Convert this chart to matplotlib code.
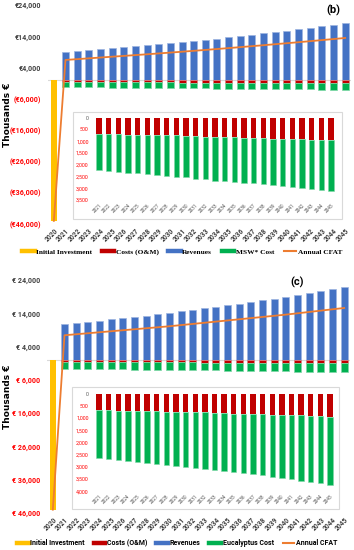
import matplotlib
matplotlib.use('Agg')
import matplotlib.pyplot as plt
from matplotlib.patches import Rectangle
from matplotlib.lines import Line2D
import numpy as np

W, H = 354, 550

years = [str(y) for y in range(2020, 2046)]
years_op = years[1:]

initial_investment_b = -45000
revenues_b = [9000, 9320, 9640, 10060, 10280, 10600, 10920, 11240, 11560, 11870,
              12190, 12510, 12940, 13260, 13690, 14110, 14540, 14960, 15280, 15820,
              16240, 16670, 17200, 17730, 18260]
om_b = [700, 705, 710, 715, 720, 725, 735, 745, 755, 770, 785, 800, 815, 830, 840,
        855, 865, 875, 885, 900, 910, 920, 930, 945, 955]
msw_b = [1543, 1566, 1604, 1628, 1651, 1689, 1708, 1726, 1759, 1773, 1801, 1814, 1856,
         1870, 1889, 1902, 1921, 1954, 1986, 2000, 2033, 2066, 2084, 2112, 2159]
cfat_b = [-45000, 6440, 6690, 6950, 7210, 7470, 7730, 7990, 8250, 8520, 8790, 9070, 9350,
          9640, 9930, 10230, 10530, 10840, 11150, 11470, 11790, 12110, 12440, 12780,
          13120, 13470]

initial_investment_c = -45000
revenues_c = [10900, 11200, 11500, 11800, 12200, 12500, 12900, 13300, 13700, 14200,
              14600, 15000, 15500, 15900, 16500, 16900, 17400, 17900, 18400, 18900,
              19500, 20100, 20700, 21300, 21900]
om_c = [683, 686, 692, 697, 703, 710, 720, 730, 738, 750, 760, 768, 790, 805, 818, 830,
        838, 848, 860, 872, 880, 890, 903, 918, 940]
euc_c = [1967, 2005, 2040, 2076, 2111, 2145, 2176, 2207, 2240, 2269, 2300, 2333, 2352,
         2378, 2406, 2435, 2468, 2499, 2541, 2584, 2631, 2675, 2717, 2757, 2789]
cfat_c = [-45000, 7400, 7700, 8000, 8300, 8600, 8900, 9200, 9500, 9800, 10100, 10450,
          10800, 11150, 11500, 11850, 12200, 12550, 12900, 13250, 13600, 14000, 14400,
          14800, 15200, 15600]

YELLOW, RED, BLUE, GREEN, ORANGE = '#FFC000', '#C00000', '#4472C4', '#00B050', '#ED7D31'
NEG = '#FF0000'
DARK = '#404040'
SANS = 'Roboto'

fig = plt.figure(figsize=(W / 100, H / 100), dpi=100)
fig.patch.set_facecolor('white')


def ax_px(l, t, r, b, z=1):
    return fig.add_axes([l / W, 1 - b / H, (r - l) / W, (b - t) / H], zorder=z)


def main_panel(l, t, r, b, inv, rev, om, cost, cfat, fmt, title, tx, ty):
    ax = ax_px(l, t, r, b, 1)
    x = np.arange(len(years))
    xo = x[1:]
    ax.axhline(0, color='#d9d9d9', lw=0.8, zorder=0)
    ax.bar([0], [inv], width=0.5, color=YELLOW, zorder=2)
    ax.bar(xo, rev, width=0.6, color=BLUE, edgecolor='#9DB5E0', lw=0.5, zorder=2)
    om_n = [-v for v in om]
    cost_n = [-v for v in cost]
    ax.bar(xo, om_n, width=0.6, color=RED, edgecolor='#E08080', lw=0.5, zorder=2)
    ax.bar(xo, cost_n, bottom=om_n, width=0.6, color=GREEN, edgecolor='#80D8A8', lw=0.5, zorder=2)
    ax.plot(x, cfat, color=ORANGE, lw=1.3, zorder=3)
    ax.set_xlim(-0.5, len(years) - 0.5)
    ax.set_ylim(-46000, 24000)
    ticks = np.arange(-46000, 24001, 10000)
    ax.set_yticks(ticks)
    ax.set_yticklabels([fmt(v) for v in ticks], fontsize=5.1, fontweight='bold', family=SANS)
    for lab, v in zip(ax.get_yticklabels(), ticks):
        lab.set_color(DARK if v >= 0 else NEG)
    ax.set_xticks(x)
    ax.set_xticklabels(years, rotation=45, ha='right', rotation_mode='anchor',
                       fontsize=4.8, fontweight='bold', color=DARK, family=SANS)
    ax.tick_params(axis='y', length=0, pad=5)
    ax.tick_params(axis='x', length=0, pad=2)
    for s in ax.spines.values():
        s.set_visible(False)
    ax.set_facecolor('none')
    fig.text(7 / W, 1 - (t + b) / 2 / H, 'Thousands €', rotation=90, fontsize=6.5,
             fontweight='bold', ha='center', va='center', family='DejaVu Sans')
    fig.text(tx / W, 1 - ty / H, title, fontsize=8, fontweight='bold', ha='center',
             va='center', family=SANS)
    return ax


def inset_panel(box, l, t, r, b, om, cost, ymax):
    bl, bt, br, bb = box
    fig.patches.append(Rectangle((bl / W, 1 - bb / H), (br - bl) / W, (bb - bt) / H,
                                 transform=fig.transFigure, facecolor='white',
                                 edgecolor='#d9d9d9', lw=0.8, zorder=5))
    ax = ax_px(l, t, r, b, 6)
    xo = np.arange(len(years_op))
    ax.bar(xo, om, width=0.57, color=RED, zorder=2)
    ax.bar(xo, cost, bottom=om, width=0.57, color=GREEN, edgecolor='#80D8A8', lw=0.4, zorder=2)
    ax.set_xlim(-0.5, len(years_op) - 0.5)
    ax.set_ylim(ymax, 0)
    ticks = np.arange(0, ymax + 1, 500)
    ax.set_yticks(ticks)
    ax.set_yticklabels([f'{v:,}' for v in ticks], fontsize=3.8, family=SANS)
    for lab, v in zip(ax.get_yticklabels(), ticks):
        lab.set_color('#595959' if v == 0 else NEG)
    ax.set_xticks(xo)
    ax.set_xticklabels(years_op, rotation=45, ha='right', rotation_mode='anchor',
                       fontsize=3.4, color='#595959', family=SANS)
    ax.tick_params(axis='y', length=0, pad=4)
    ax.tick_params(axis='x', length=0, pad=2)
    for s in ax.spines.values():
        s.set_visible(False)
    ax.set_facecolor('none')
    return ax


fmt_b = lambda v: f'€{v:,}' if v >= 0 else f'(€{-v:,})'
fmt_c = lambda v: f'€ {abs(v):,}'

main_panel(48, 5, 351, 224, initial_investment_b, revenues_b, om_b, msw_b, cfat_b,
           fmt_b, '(b)', 333, 10)
inset_panel((73, 112, 342, 219), 94.2, 117.7, 335.8, 200, om_b, msw_b, 3500)

main_panel(47, 280, 350, 513, initial_investment_c, revenues_c, om_c, euc_c, cfat_c,
           fmt_c, '(c)', 297, 282)
inset_panel((72, 387, 339, 509), 94.2, 393.7, 334.8, 491.3, om_c, euc_c, 4000)


def legend(yc, xc, labels, family, size, colsp):
    handles = [Line2D([], [], color=YELLOW, lw=3.2),
               Line2D([], [], color=RED, lw=3.2),
               Line2D([], [], color=BLUE, lw=3.2),
               Line2D([], [], color=GREEN, lw=3.2),
               Line2D([], [], color=ORANGE, lw=1.5)]
    fig.legend(handles, labels, loc='center', bbox_to_anchor=(xc / W, 1 - yc / H),
               ncol=5, frameon=False, handlelength=1.7, handletextpad=0.2,
               columnspacing=colsp, borderpad=0, borderaxespad=0,
               prop={'family': family, 'weight': 'bold', 'size': size})


legend(252, 182, ['Initial Investment', 'Costs (O&M)', 'Revenues', 'MSW* Cost', 'Annual CFAT'],
       'Liberation Serif', 5.3, 1.3)
legend(543, 177, ['Initial Investment', 'Costs (O&M)', 'Revenues', 'Eucalyptus Cost', 'Annual CFAT'],
       SANS, 5.0, 1.3)

fig.savefig('out.png', dpi=100)
